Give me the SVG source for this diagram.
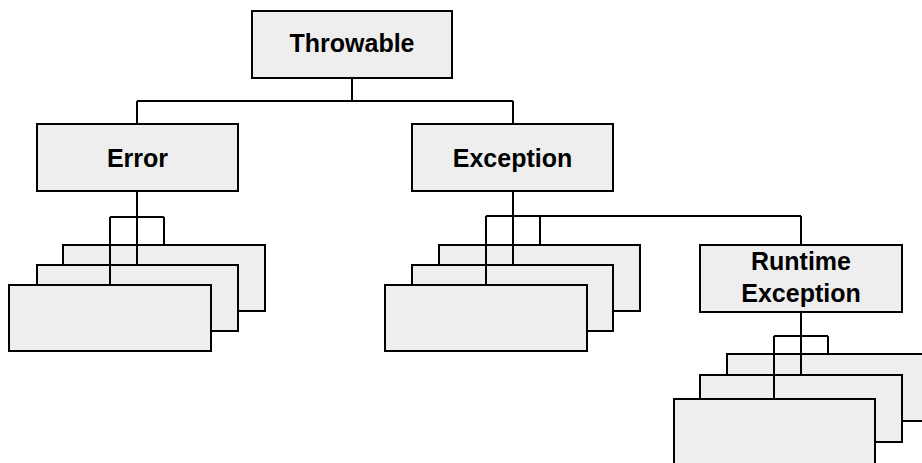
<svg xmlns="http://www.w3.org/2000/svg" width="922" height="463" viewBox="0 0 922 463">
<style>
.box{fill:#eeeeee;stroke:#000000;stroke-width:2}
.lbl{font-family:"Liberation Sans",Arial,sans-serif;font-weight:bold;font-size:25px;fill:#000000;text-anchor:middle}
.conn{fill:none;stroke:#000000;stroke-width:2}
</style>
<rect width="922" height="463" fill="#ffffff"/>
<g id="throwable"><rect class="box" x="252" y="11" width="200" height="67"/><text class="lbl" x="352" y="52">Throwable</text></g>
<g id="error"><rect class="box" x="37" y="124" width="201" height="67"/><text class="lbl" x="137.5" y="166.5">Error</text></g>
<g id="exception"><rect class="box" x="412" y="124" width="201" height="67"/><text class="lbl" x="512.5" y="166.5">Exception</text></g>
<g id="runtime-exception"><rect class="box" x="700" y="245" width="202" height="67"/><text class="lbl" x="801" y="270">Runtime</text><text class="lbl" x="801" y="302">Exception</text></g>
<g id="error-sub-3"><rect class="box" x="63" y="245" width="202" height="66"/></g>
<g id="error-sub-2"><rect class="box" x="37" y="265" width="201" height="66"/></g>
<g id="exception-sub-3"><rect class="box" x="439" y="245" width="201" height="66"/></g>
<g id="exception-sub-2"><rect class="box" x="412" y="265" width="201" height="66"/></g>
<g id="runtime-sub-3"><rect class="box" x="727" y="354" width="202" height="67"/></g>
<g id="runtime-sub-2"><rect class="box" x="700" y="375" width="202" height="67"/></g>
<g id="connectors">
<path class="conn" d="M352 78V101M137 101H513M137 101V124M513 101V124"/>
<path class="conn" d="M137 191V265M110 217H164M110 217V285M164 217V245"/>
<path class="conn" d="M513 191V265M486 216H801M486 216V285M540 216V245M801 216V245"/>
<path class="conn" d="M801 312V375M774 336H828M774 336V399M828 336V354"/>
</g>
<g id="error-sub-1"><rect class="box" x="9" y="285" width="202" height="66"/></g>
<g id="exception-sub-1"><rect class="box" x="385" y="285" width="202" height="66"/></g>
<g id="runtime-sub-1"><rect class="box" x="674" y="399" width="201" height="80"/></g>
</svg>
